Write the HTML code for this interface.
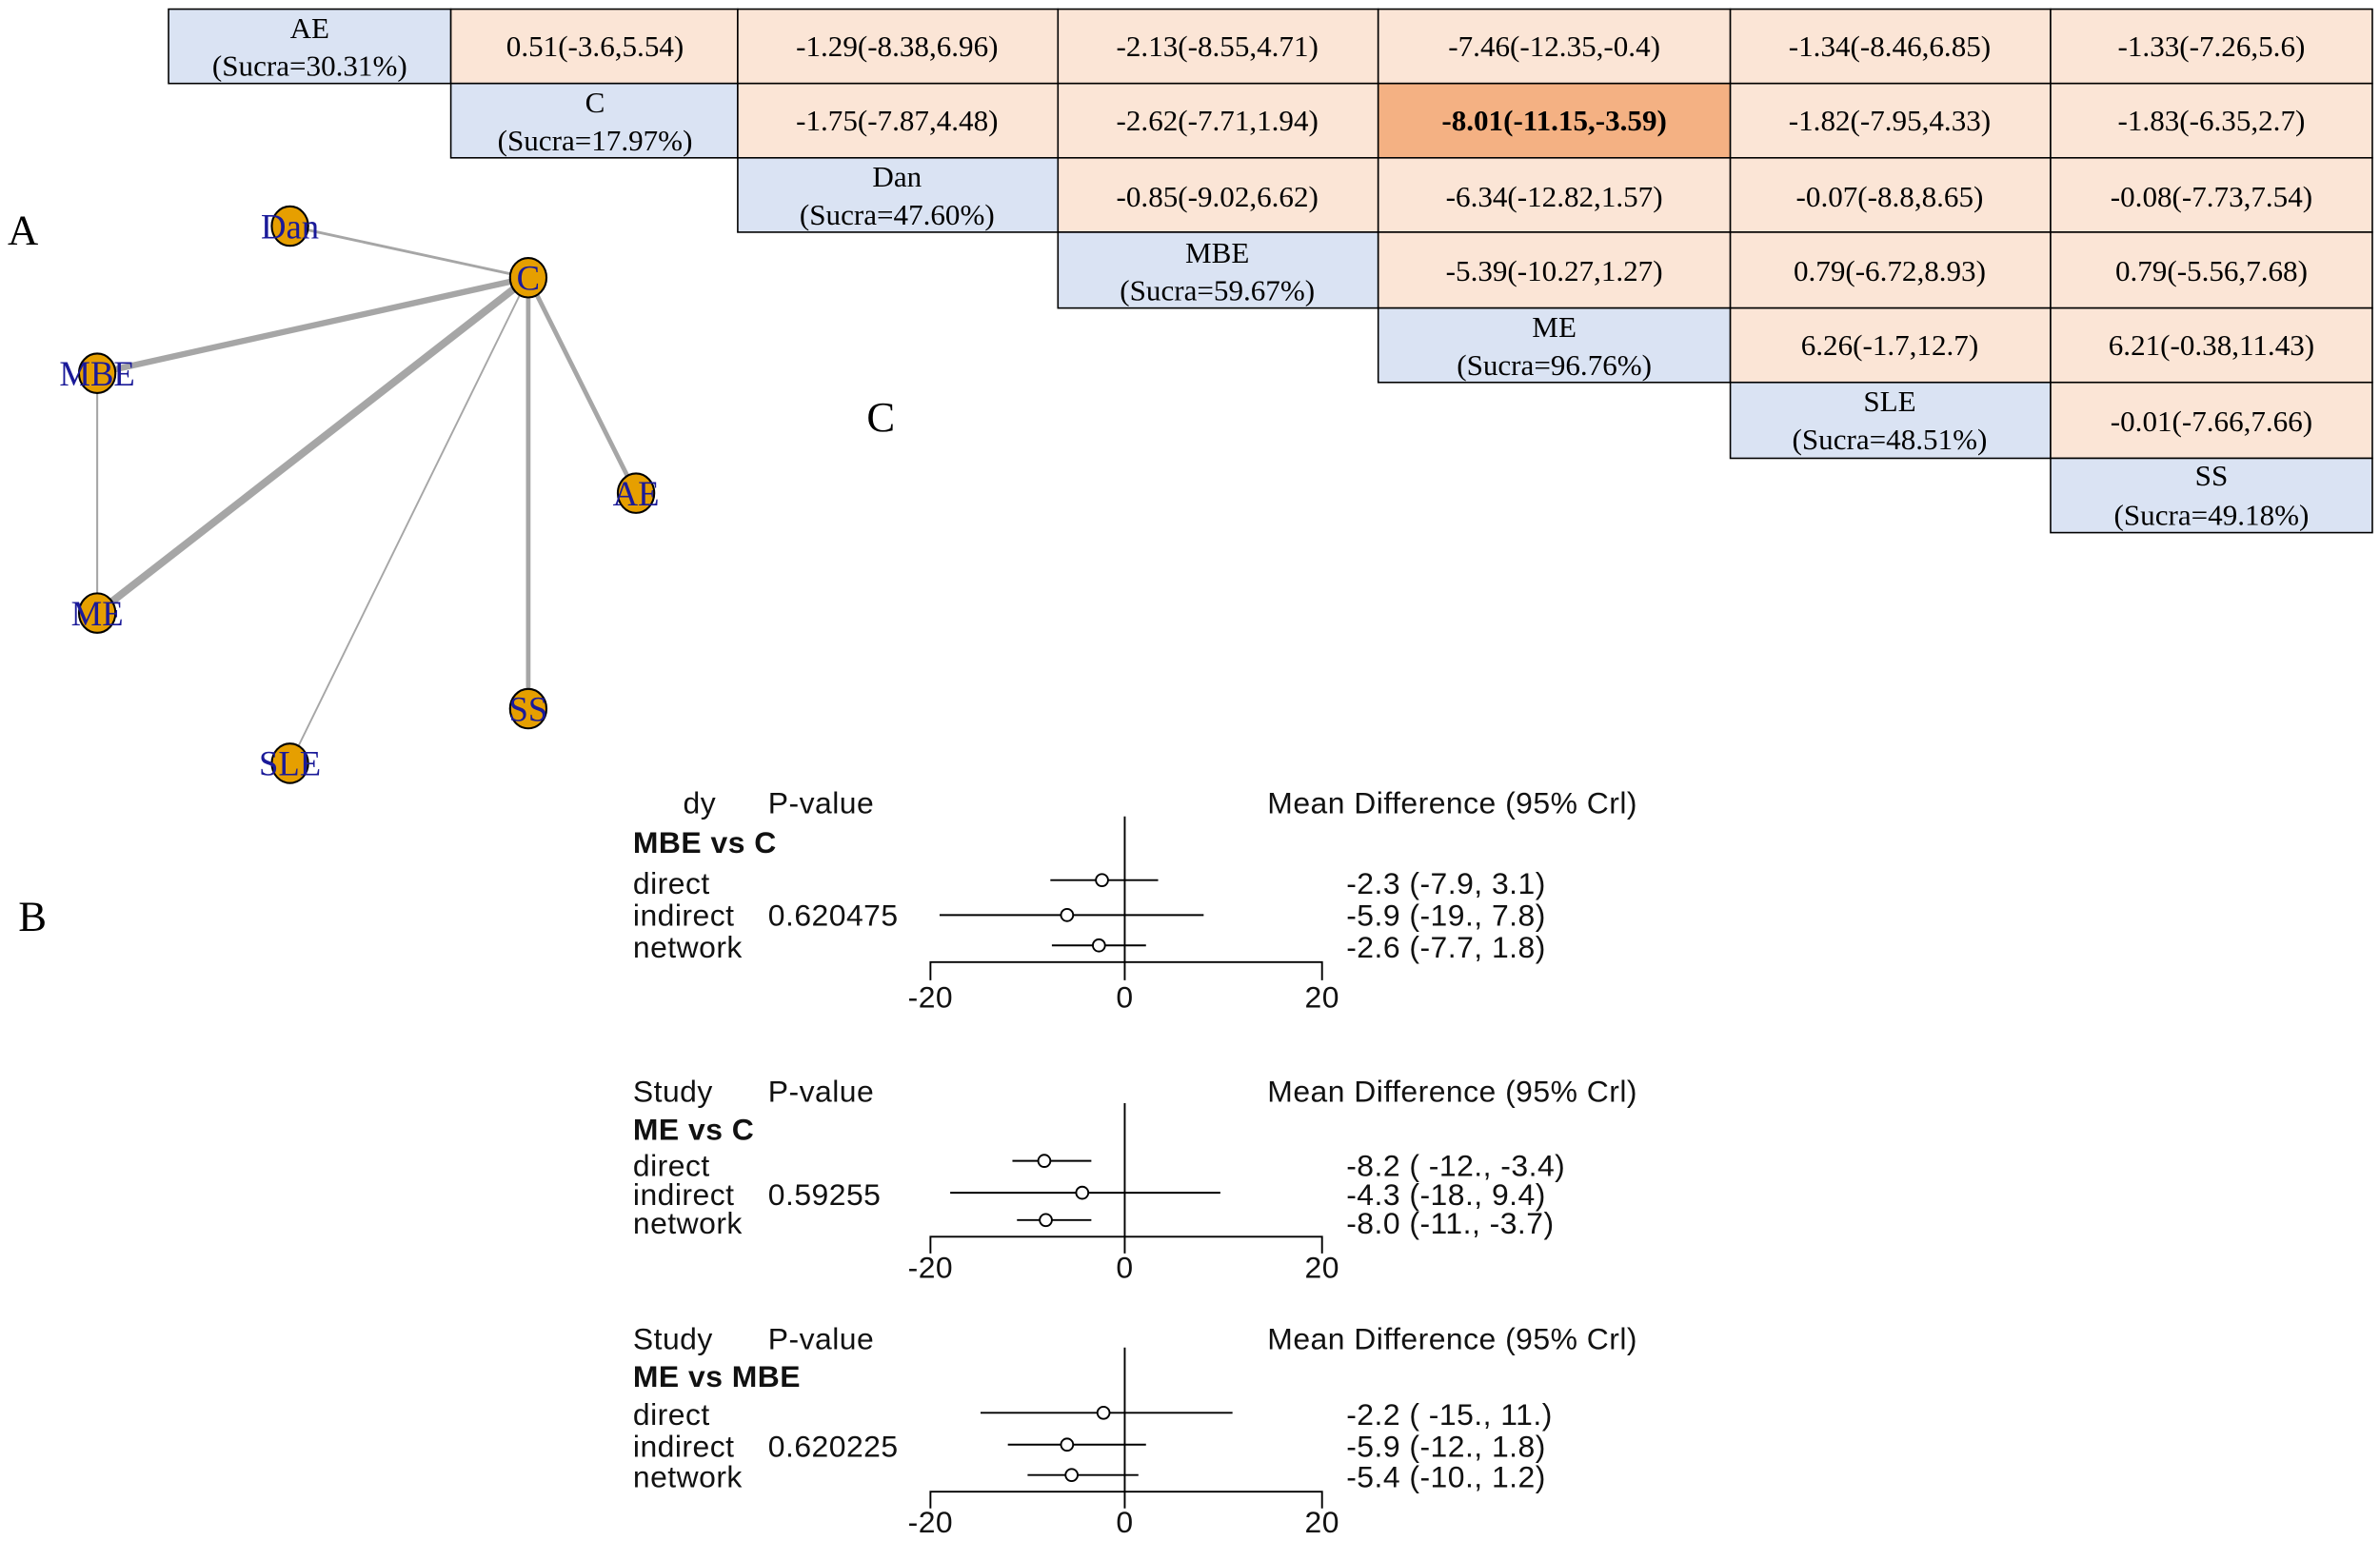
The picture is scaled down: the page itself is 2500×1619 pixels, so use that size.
<!DOCTYPE html>
<html><head><meta charset="utf-8"><style>
html,body{margin:0;padding:0;background:#fff;}
svg{display:block;}
.t{font-family:"Liberation Serif",serif;font-size:19.5px;fill:#000;}
.s{font-family:"Liberation Sans",sans-serif;font-size:20px;letter-spacing:0.3px;fill:#111;}
.n{font-family:"Liberation Serif",serif;font-size:23px;fill:#1a1a99;}
</style></head><body>
<svg width="2500" height="1619" viewBox="0 0 1568 1015.5" xmlns="http://www.w3.org/2000/svg">
<rect width="1568" height="1016" fill="#fff"/>
<g id="tbl" stroke="#000" stroke-width="1">
<rect x="111" y="6" width="186" height="49" fill="#dae3f3"/>
<rect x="297" y="6" width="189" height="49" fill="#fbe5d6"/>
<rect x="486" y="6" width="211" height="49" fill="#fbe5d6"/>
<rect x="697" y="6" width="211" height="49" fill="#fbe5d6"/>
<rect x="908" y="6" width="232" height="49" fill="#fbe5d6"/>
<rect x="1140" y="6" width="211" height="49" fill="#fbe5d6"/>
<rect x="1351" y="6" width="212" height="49" fill="#fbe5d6"/>
<rect x="297" y="55" width="189" height="49" fill="#dae3f3"/>
<rect x="486" y="55" width="211" height="49" fill="#fbe5d6"/>
<rect x="697" y="55" width="211" height="49" fill="#fbe5d6"/>
<rect x="908" y="55" width="232" height="49" fill="#f4b183"/>
<rect x="1140" y="55" width="211" height="49" fill="#fbe5d6"/>
<rect x="1351" y="55" width="212" height="49" fill="#fbe5d6"/>
<rect x="486" y="104" width="211" height="49" fill="#dae3f3"/>
<rect x="697" y="104" width="211" height="49" fill="#fbe5d6"/>
<rect x="908" y="104" width="232" height="49" fill="#fbe5d6"/>
<rect x="1140" y="104" width="211" height="49" fill="#fbe5d6"/>
<rect x="1351" y="104" width="212" height="49" fill="#fbe5d6"/>
<rect x="697" y="153" width="211" height="50" fill="#dae3f3"/>
<rect x="908" y="153" width="232" height="50" fill="#fbe5d6"/>
<rect x="1140" y="153" width="211" height="50" fill="#fbe5d6"/>
<rect x="1351" y="153" width="212" height="50" fill="#fbe5d6"/>
<rect x="908" y="203" width="232" height="49" fill="#dae3f3"/>
<rect x="1140" y="203" width="211" height="49" fill="#fbe5d6"/>
<rect x="1351" y="203" width="212" height="49" fill="#fbe5d6"/>
<rect x="1140" y="252" width="211" height="50" fill="#dae3f3"/>
<rect x="1351" y="252" width="212" height="50" fill="#fbe5d6"/>
<rect x="1351" y="302" width="212" height="49" fill="#dae3f3"/>
</g>
<g class="t" text-anchor="middle">
<text x="204" y="25">AE</text><text x="204" y="50">(Sucra=30.31%)</text>
<text x="392" y="37">0.51(-3.6,5.54)</text>
<text x="591" y="37">-1.29(-8.38,6.96)</text>
<text x="802" y="37">-2.13(-8.55,4.71)</text>
<text x="1024" y="37">-7.46(-12.35,-0.4)</text>
<text x="1245" y="37">-1.34(-8.46,6.85)</text>
<text x="1457" y="37">-1.33(-7.26,5.6)</text>

<text x="392" y="74">C</text><text x="392" y="99">(Sucra=17.97%)</text>
<text x="591" y="86">-1.75(-7.87,4.48)</text>
<text x="802" y="86">-2.62(-7.71,1.94)</text>
<text x="1024" y="86" font-weight="bold">-8.01(-11.15,-3.59)</text>
<text x="1245" y="86">-1.82(-7.95,4.33)</text>
<text x="1457" y="86">-1.83(-6.35,2.7)</text>

<text x="591" y="123">Dan</text><text x="591" y="148">(Sucra=47.60%)</text>
<text x="802" y="136">-0.85(-9.02,6.62)</text>
<text x="1024" y="136">-6.34(-12.82,1.57)</text>
<text x="1245" y="136">-0.07(-8.8,8.65)</text>
<text x="1457" y="136">-0.08(-7.73,7.54)</text>

<text x="802" y="173">MBE</text><text x="802" y="198">(Sucra=59.67%)</text>
<text x="1024" y="185">-5.39(-10.27,1.27)</text>
<text x="1245" y="185">0.79(-6.72,8.93)</text>
<text x="1457" y="185">0.79(-5.56,7.68)</text>

<text x="1024" y="222">ME</text><text x="1024" y="247">(Sucra=96.76%)</text>
<text x="1245" y="234">6.26(-1.7,12.7)</text>
<text x="1457" y="234">6.21(-0.38,11.43)</text>

<text x="1245" y="271">SLE</text><text x="1245" y="296">(Sucra=48.51%)</text>
<text x="1457" y="284">-0.01(-7.66,7.66)</text>

<text x="1457" y="320">SS</text><text x="1457" y="346">(Sucra=49.18%)</text>
</g>
<g font-family="Liberation Serif,serif" font-size="28" fill="#000">
<text x="5" y="161">A</text><text x="12" y="613">B</text><text x="571" y="284">C</text>
</g>
<g stroke="#a6a6a6" stroke-linecap="round">
<line x1="348" y1="183" x2="191" y2="149" stroke-width="1.8"/>
<line x1="348" y1="183" x2="64" y2="246" stroke-width="4"/>
<line x1="348" y1="183" x2="64" y2="404" stroke-width="5"/>
<line x1="348" y1="183" x2="191" y2="503" stroke-width="1.2"/>
<line x1="348" y1="183" x2="348" y2="467" stroke-width="3"/>
<line x1="348" y1="183" x2="419" y2="325" stroke-width="3"/>
<line x1="64" y1="246" x2="64" y2="404" stroke-width="1.3"/>
</g>
<g fill="#e69f00" stroke="#000" stroke-width="1.3">
<ellipse cx="191" cy="149" rx="12" ry="13"/>
<ellipse cx="348" cy="183" rx="12" ry="13"/>
<ellipse cx="64" cy="246" rx="12" ry="13"/>
<ellipse cx="419" cy="325" rx="12" ry="13"/>
<ellipse cx="64" cy="404" rx="12" ry="13"/>
<ellipse cx="348" cy="467" rx="12" ry="13"/>
<ellipse cx="191" cy="503" rx="12" ry="13"/>
</g>
<g class="n" text-anchor="middle">
<text x="191" y="157">Dan</text>
<text x="348" y="191">C</text>
<text x="64" y="254">MBE</text>
<text x="419" y="333">AE</text>
<text x="64" y="412">ME</text>
<text x="348" y="475">SS</text>
<text x="191" y="511">SLE</text>
</g>
<g class="s" xml:space="preserve">
<text x="450" y="536">dy</text><text x="506" y="536">P-value</text><text x="835" y="536">Mean Difference (95% Crl)</text>
<text x="417" y="562" font-weight="bold">MBE vs C</text>
<text x="417" y="589">direct</text>
<text x="417" y="610">indirect</text><text x="506" y="610">0.620475</text>
<text x="417" y="631">network</text>
<text x="887" y="589">-2.3 (-7.9, 3.1)</text>
<text x="887" y="610">-5.9 (-19., 7.8)</text>
<text x="887" y="631">-2.6 (-7.7, 1.8)</text>

<text x="417" y="726">Study</text><text x="506" y="726">P-value</text><text x="835" y="726">Mean Difference (95% Crl)</text>
<text x="417" y="751" font-weight="bold">ME vs C</text>
<text x="417" y="775">direct</text>
<text x="417" y="794">indirect</text><text x="506" y="794">0.59255</text>
<text x="417" y="813">network</text>
<text x="887" y="775">-8.2 ( -12., -3.4)</text>
<text x="887" y="794">-4.3 (-18., 9.4)</text>
<text x="887" y="813">-8.0 (-11., -3.7)</text>

<text x="417" y="889">Study</text><text x="506" y="889">P-value</text><text x="835" y="889">Mean Difference (95% Crl)</text>
<text x="417" y="914" font-weight="bold">ME vs MBE</text>
<text x="417" y="939">direct</text>
<text x="417" y="960">indirect</text><text x="506" y="960">0.620225</text>
<text x="417" y="980">network</text>
<text x="887" y="939">-2.2 ( -15.,   11.)</text>
<text x="887" y="960">-5.9 (-12., 1.8)</text>
<text x="887" y="980">-5.4 (-10., 1.2)</text>
</g>
<g class="s" text-anchor="middle">
<text x="613" y="664">-20</text><text x="741" y="664">0</text><text x="871" y="664">20</text>
<text x="613" y="842">-20</text><text x="741" y="842">0</text><text x="871" y="842">20</text>
<text x="613" y="1010">-20</text><text x="741" y="1010">0</text><text x="871" y="1010">20</text>
</g>
<g stroke="#000" stroke-width="1.2" fill="none">
<line x1="741" y1="538" x2="741" y2="634"/>
<path d="M613,646V634H871V646M741,634v12"/>
<line x1="692" y1="580" x2="763" y2="580"/>
<line x1="619" y1="603" x2="793" y2="603"/>
<line x1="693" y1="623" x2="755" y2="623"/>
<line x1="741" y1="727" x2="741" y2="815"/>
<path d="M613,826V815H871V826M741,815v11"/>
<line x1="667" y1="765" x2="719" y2="765"/>
<line x1="626" y1="786" x2="804" y2="786"/>
<line x1="670" y1="804" x2="719" y2="804"/>
<line x1="741" y1="888" x2="741" y2="983"/>
<path d="M613,994V983H871V994M741,983v11"/>
<line x1="646" y1="931" x2="812" y2="931"/>
<line x1="664" y1="952" x2="755" y2="952"/>
<line x1="677" y1="972" x2="750" y2="972"/>
</g>
<g fill="#fff" stroke="#000" stroke-width="1.2">
<circle cx="726" cy="580" r="4"/>
<circle cx="703" cy="603" r="4"/>
<circle cx="724" cy="623" r="4"/>
<circle cx="688" cy="765" r="4"/>
<circle cx="713" cy="786" r="4"/>
<circle cx="689" cy="804" r="4"/>
<circle cx="727" cy="931" r="4"/>
<circle cx="703" cy="952" r="4"/>
<circle cx="706" cy="972" r="4"/>
</g>
</svg>
</body></html>
